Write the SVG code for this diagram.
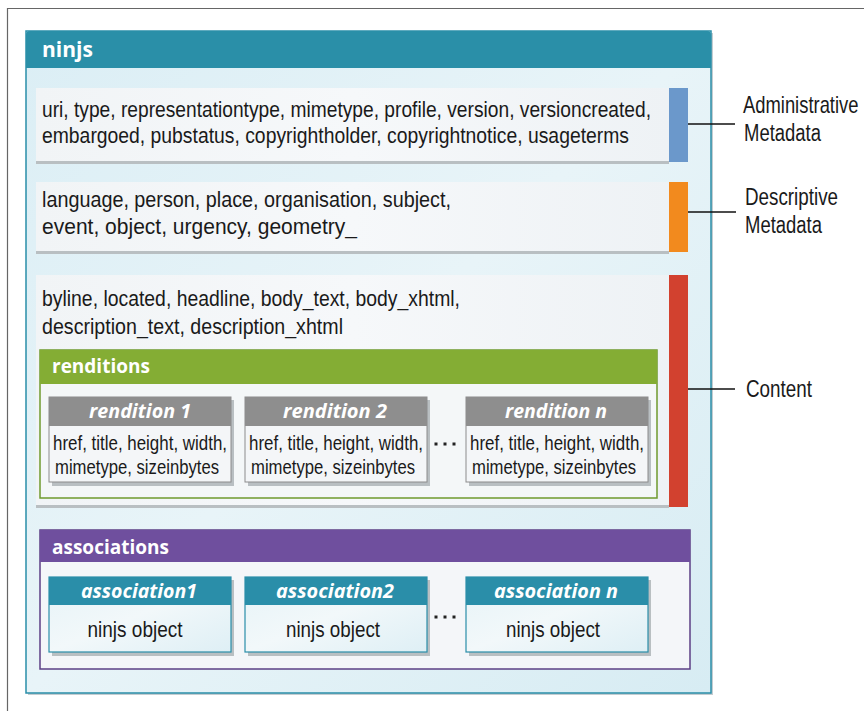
<svg xmlns="http://www.w3.org/2000/svg" width="864" height="711" viewBox="0 0 864 711">
<defs>
<style>
.body{font-family:"Liberation Sans",Arial,sans-serif;font-size:22px;fill:#1a1a1a}
.small{font-size:21px}
.lab{font-family:"Liberation Sans",Arial,sans-serif;font-size:23px;fill:#1a1a1a}
.hdr{font-family:"Open Sans","Noto Sans",sans-serif;font-weight:bold;fill:#ffffff}
.ital{font-family:"Open Sans","Noto Sans",sans-serif;font-weight:bold;font-style:italic;fill:#ffffff;font-size:20px}
.row{fill:url(#rowg)}
.shadow{fill:#b9bfc2}
.conn{stroke:#111;stroke-width:1.6;fill:none}
.rbody{fill:#f4f6f8;stroke:#8c8c8c;stroke-width:1}
.abody{fill:url(#assg);stroke:#2a8ea9;stroke-width:1.2}
.dots{fill:#222}
</style>
<linearGradient id="rowg" x1="0" y1="0" x2="1" y2="0">
<stop offset="0" stop-color="#f1f4f6"/>
<stop offset="0.5" stop-color="#f6f8fa"/>
<stop offset="1" stop-color="#eef2f5"/>
</linearGradient>
<linearGradient id="mainbg" x1="0" y1="0" x2="1" y2="1">
<stop offset="0" stop-color="#dbeef5"/>
<stop offset="0.5" stop-color="#e8f4f8"/>
<stop offset="1" stop-color="#d7ecf3"/>
</linearGradient>
<linearGradient id="assg" x1="0" y1="0" x2="1" y2="1">
<stop offset="0" stop-color="#e6f3f7"/>
<stop offset="0.5" stop-color="#f2f8fa"/>
<stop offset="1" stop-color="#deeff5"/>
</linearGradient>
</defs>
<rect x="0" y="0" width="864" height="711" fill="#ffffff"/>
<path d="M7.5 711 V8.5 H864" fill="none" stroke="#666" stroke-width="1.2"/>

<g id="ninjs">
<rect x="28" y="33" width="685" height="662" fill="#c4ccd0"/>
<rect x="26" y="31" width="685" height="662" fill="url(#mainbg)" stroke="#2a8ea9" stroke-width="1.5"/>
<path d="M26 68 V35 Q26 31 30 31 H707 Q711 31 711 35 V68 Z" fill="#2a8fa8"/>
<text class="hdr" x="42" y="57" font-size="21">ninjs</text>
</g>

<g id="administrative-row">
<rect class="shadow" x="36" y="160" width="633" height="4"/>
<rect class="row" x="36" y="88" width="633" height="73"/>
<text class="body" x="42" y="117" textLength="609" lengthAdjust="spacingAndGlyphs">uri, type, representationtype, mimetype, profile, version, versioncreated,</text>
<text class="body" x="42" y="143" textLength="587" lengthAdjust="spacingAndGlyphs">embargoed, pubstatus, copyrightholder, copyrightnotice, usageterms</text>
<rect x="669" y="88" width="19" height="74" fill="#6b98cb"/>
</g>

<g id="descriptive-row">
<rect class="shadow" x="36" y="250" width="633" height="4"/>
<rect class="row" x="36" y="182" width="633" height="69"/>
<text class="body" x="42" y="207" textLength="409" lengthAdjust="spacingAndGlyphs">language,  person,  place,  organisation, subject,</text>
<text class="body" x="42" y="234" textLength="315" lengthAdjust="spacingAndGlyphs">event,  object,  urgency,  geometry_</text>
<rect x="669" y="182" width="19" height="70" fill="#f28a1e"/>
</g>

<g id="content-row">
<rect class="shadow" x="36" y="504" width="633" height="4"/>
<rect class="row" x="36" y="275" width="633" height="230"/>
<text class="body" x="42" y="306" textLength="418" lengthAdjust="spacingAndGlyphs">byline, located, headline, body_text, body_xhtml,</text>
<text class="body" x="42" y="334" textLength="301" lengthAdjust="spacingAndGlyphs">description_text, description_xhtml</text>
<rect x="669" y="275" width="19" height="232" fill="#d2412f"/>
</g>

<g id="renditions">
<rect x="40" y="350" width="617" height="148" fill="#f4f7f8" stroke="#6f9a2e" stroke-width="1.5"/>
<rect x="40" y="350" width="617" height="34" fill="#84ad34"/>
<text class="hdr" x="52" y="373" font-size="19">renditions</text>
</g>

<g id="rendition-1">
<rect class="shadow" x="52" y="400" width="182" height="86"/>
<rect class="rbody" x="49" y="397" width="182" height="85"/>
<rect x="49" y="397" width="182" height="29" fill="#8e8e8e"/>
<text class="ital" x="140" y="418" text-anchor="middle" textLength="102" lengthAdjust="spacingAndGlyphs">rendition 1</text>
<text class="body small" x="53" y="450" textLength="174" lengthAdjust="spacingAndGlyphs">href, title, height, width,</text>
<text class="body small" x="55" y="474" textLength="164" lengthAdjust="spacingAndGlyphs">mimetype, sizeinbytes</text>
</g>

<g id="rendition-2">
<rect class="shadow" x="248" y="400" width="182" height="86"/>
<rect class="rbody" x="245" y="397" width="182" height="85"/>
<rect x="245" y="397" width="182" height="29" fill="#8e8e8e"/>
<text class="ital" x="335" y="418" text-anchor="middle" textLength="104" lengthAdjust="spacingAndGlyphs">rendition 2</text>
<text class="body small" x="249" y="450" textLength="174" lengthAdjust="spacingAndGlyphs">href, title, height, width,</text>
<text class="body small" x="251" y="474" textLength="164" lengthAdjust="spacingAndGlyphs">mimetype, sizeinbytes</text>
</g>

<g id="rendition-n">
<rect class="shadow" x="469" y="400" width="182" height="86"/>
<rect class="rbody" x="466" y="397" width="182" height="85"/>
<rect x="466" y="397" width="182" height="29" fill="#8e8e8e"/>
<text class="ital" x="556" y="418" text-anchor="middle" textLength="102" lengthAdjust="spacingAndGlyphs">rendition n</text>
<text class="body small" x="470" y="450" textLength="174" lengthAdjust="spacingAndGlyphs">href, title, height, width,</text>
<text class="body small" x="472" y="474" textLength="164" lengthAdjust="spacingAndGlyphs">mimetype, sizeinbytes</text>
</g>

<g id="rendition-dots">
<rect class="dots" x="434.5" y="442.5" width="3" height="3"/>
<rect class="dots" x="443.5" y="442.5" width="3" height="3"/>
<rect class="dots" x="452.5" y="442.5" width="3" height="3"/>
</g>

<g id="associations">
<rect x="40" y="530" width="650" height="139" fill="#f4f6f9" stroke="#5c3f85" stroke-width="1.5"/>
<rect x="40" y="530" width="650" height="32" fill="#6f4f9e"/>
<text class="hdr" x="52" y="554" font-size="19">associations</text>
</g>

<g id="association-1">
<rect class="shadow" x="52" y="580" width="182" height="76"/>
<rect class="abody" x="49" y="577" width="182" height="75"/>
<rect x="49" y="577" width="182" height="28" fill="#2a8ea9"/>
<text class="ital" x="139" y="598" text-anchor="middle" textLength="116" lengthAdjust="spacingAndGlyphs">association1</text>
<text class="body" x="135" y="637" text-anchor="middle" textLength="95" lengthAdjust="spacingAndGlyphs">ninjs object</text>
</g>

<g id="association-2">
<rect class="shadow" x="248" y="580" width="182" height="76"/>
<rect class="abody" x="245" y="577" width="182" height="75"/>
<rect x="245" y="577" width="182" height="28" fill="#2a8ea9"/>
<text class="ital" x="335" y="598" text-anchor="middle" textLength="118" lengthAdjust="spacingAndGlyphs">association2</text>
<text class="body" x="333" y="637" text-anchor="middle" textLength="94" lengthAdjust="spacingAndGlyphs">ninjs object</text>
</g>

<g id="association-n">
<rect class="shadow" x="469" y="580" width="182" height="76"/>
<rect class="abody" x="466" y="577" width="182" height="75"/>
<rect x="466" y="577" width="182" height="28" fill="#2a8ea9"/>
<text class="ital" x="556" y="598" text-anchor="middle" textLength="124" lengthAdjust="spacingAndGlyphs">association n</text>
<text class="body" x="553" y="637" text-anchor="middle" textLength="94" lengthAdjust="spacingAndGlyphs">ninjs object</text>
</g>

<g id="association-dots">
<rect class="dots" x="434.5" y="615.5" width="3" height="3"/>
<rect class="dots" x="443.5" y="615.5" width="3" height="3"/>
<rect class="dots" x="452.5" y="615.5" width="3" height="3"/>
</g>

<g id="label-administrative">
<text class="lab" transform="translate(743,113) scale(0.8,1)" x="0" y="0">Administrative</text>
<text class="lab" x="744" y="141" textLength="77" lengthAdjust="spacingAndGlyphs">Metadata</text>
</g>
<g id="label-descriptive">
<text class="lab" x="745" y="205" textLength="93" lengthAdjust="spacingAndGlyphs">Descriptive</text>
<text class="lab" x="745" y="233" textLength="77" lengthAdjust="spacingAndGlyphs">Metadata</text>
</g>
<g id="label-content">
<text class="lab" x="746" y="397" textLength="66" lengthAdjust="spacingAndGlyphs">Content</text>
</g>

<g id="connectors">
<line class="conn" x1="688" y1="124" x2="735" y2="124"/>
<line class="conn" x1="688" y1="212" x2="736" y2="212"/>
<line class="conn" x1="688" y1="389" x2="735" y2="389"/>
</g>
</svg>
